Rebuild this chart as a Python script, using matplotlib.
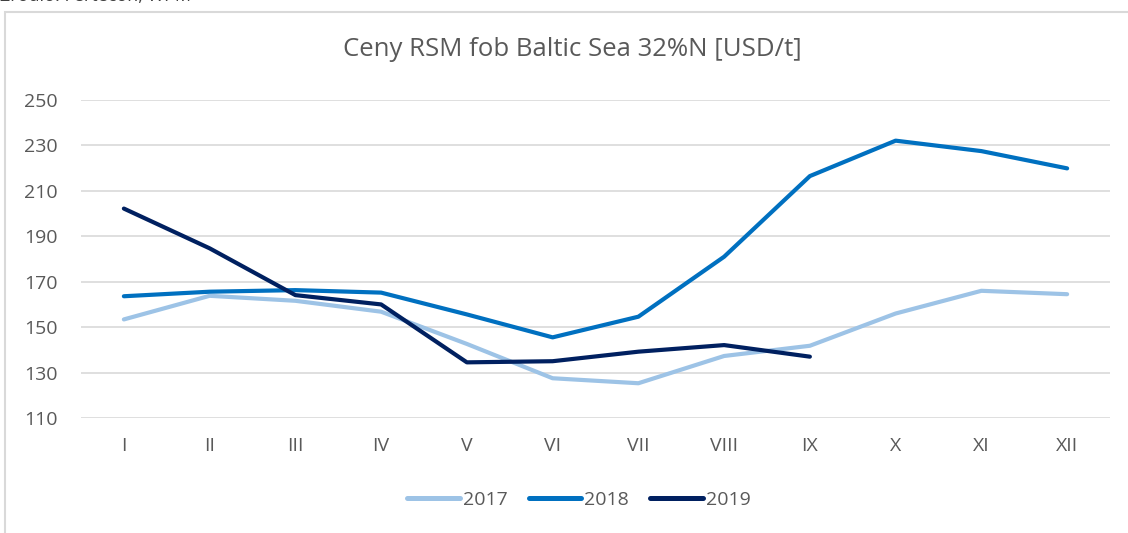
import numpy as np
import matplotlib.pyplot as plt
from matplotlib.patches import Rectangle

months = ["I", "II", "III", "IV", "V", "VI", "VII", "VIII", "IX", "X", "XI", "XII"]
y2017 = [153.4, 163.8, 161.6, 156.8, 142.6, 127.5, 125.3, 137.3, 141.8, 156.0, 166.0, 164.5]
y2018 = [163.6, 165.6, 166.3, 165.2, 155.6, 145.5, 154.6, 181.0, 216.5, 232.1, 227.5, 219.9]
y2019 = [202.2, 184.7, 164.1, 160.0, 134.5, 135.0, 139.2, 142.1, 137.0]
yticks = [110, 130, 150, 170, 190, 210, 230, 250]

plt.rcParams['font.family'] = ['Open Sans', 'DejaVu Sans']
grey = "#595959"

fig = plt.figure(figsize=(11.28, 5.33), dpi=100)
fig.patches.append(Rectangle((5 / 1128, -0.1), 1.2, 1 - 12 / 533 + 0.1,
                             transform=fig.transFigure, fill=False,
                             edgecolor="#D9D9D9", linewidth=1.5))
fig.text(0.0, 1.008, "Źródło: Fertecon, WPM", fontsize=13, color="#404040",
         ha="left", va="center")

ax = fig.add_axes([81 / 1128, 115 / 533, (1110 - 81) / 1128, 318 / 533])
x = np.arange(len(months))
ax.plot(x, y2017, color="#9DC3E6", lw=3, solid_capstyle="round", label="2017")
ax.plot(x, y2018, color="#0070C0", lw=3, solid_capstyle="round", label="2018")
ax.plot(np.arange(len(y2019)), y2019, color="#002060", lw=3, solid_capstyle="round", label="2019")

ax.set_xlim(-0.5, 11.5)
ax.set_ylim(110, 250)
ax.set_yticks(yticks)
ax.set_xticks(x)
ax.set_xticklabels(months)
ax.grid(axis="y", color="#D9D9D9", lw=1.2)
ax.set_axisbelow(True)
for s in ax.spines.values():
    s.set_visible(False)
ax.tick_params(length=0, labelsize=14, colors=grey)
ax.tick_params(axis="x", pad=14)
ax.tick_params(axis="y", pad=17)

fig.text(572 / 1128, 1 - 50 / 533, "Ceny RSM fob Baltic Sea 32%N [USD/t]",
         fontsize=18.5, color=grey, ha="center", va="center")
leg = fig.legend(loc="center", bbox_to_anchor=(579 / 1128, 1 - 500 / 533), ncol=3,
                 frameon=False, fontsize=14, labelcolor=grey, handlelength=2.7,
                 handletextpad=0.15, columnspacing=1.1)
for h in leg.legend_handles:
    h.set_linewidth(3.6)

plt.savefig("out.png", dpi=100)
